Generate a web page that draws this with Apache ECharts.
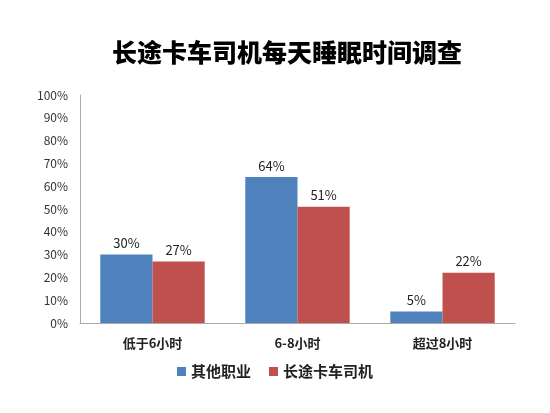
<!DOCTYPE html>
<html><head><meta charset="utf-8">
<script src="https://cdn.jsdelivr.net/npm/echarts@6/dist/echarts.min.js"></script>
<style>html,body{margin:0;padding:0;background:#fff}#c{width:550px;height:413px}</style>
</head><body><div id="c"></div>
<script>
const categories = ['低于6小时', '6-8小时', '超过8小时'];
const otherJobs = [30, 64, 5];
const truckDrivers = [27, 51, 22];
const seriesNames = ['其他职业', '长途卡车司机'];
const title = '长途卡车司机每天睡眠时间调查';

const font = '"Noto Sans CJK SC", "Noto Sans", sans-serif';
const chart = echarts.init(document.getElementById('c'));
const label = {show: true, position: 'top', formatter: '{c}%', color: '#222', fontSize: 13, fontFamily: font, distance: 5};
chart.setOption({
  animation: false,
  backgroundColor: '#fff',
  title: {text: title, left: 282, textAlign: 'center', top: 35,
    textStyle: {fontSize: 25, fontWeight: 900, color: '#000', fontFamily: font}},
  grid: {left: 80, right: 35, top: 95, bottom: 90},
  legend: {bottom: 29, left: 'center', itemWidth: 9, itemHeight: 9, icon: 'rect', itemGap: 18,
    textStyle: {fontSize: 15, fontWeight: 'bold', color: '#222', fontFamily: font},
    data: seriesNames},
  xAxis: {type: 'category', data: categories,
    axisLine: {lineStyle: {color: '#aaa'}}, axisTick: {show: false},
    axisLabel: {fontSize: 13, fontWeight: 'bold', color: '#222', fontFamily: font, margin: 14}},
  yAxis: {type: 'value', min: 0, max: 100, interval: 10,
    axisLine: {show: true, lineStyle: {color: '#aaa'}}, axisTick: {show: false},
    splitLine: {show: false},
    axisLabel: {formatter: '{value}%', fontSize: 12, color: '#333', fontFamily: font, margin: 12}},
  series: [
    {name: seriesNames[0], type: 'bar', data: otherJobs, barGap: '0%', barCategoryGap: '28%',
      itemStyle: {color: '#4F81BD'}, label},
    {name: seriesNames[1], type: 'bar', data: truckDrivers,
      itemStyle: {color: '#C0504D'}, label}
  ]
});
</script></body></html>
